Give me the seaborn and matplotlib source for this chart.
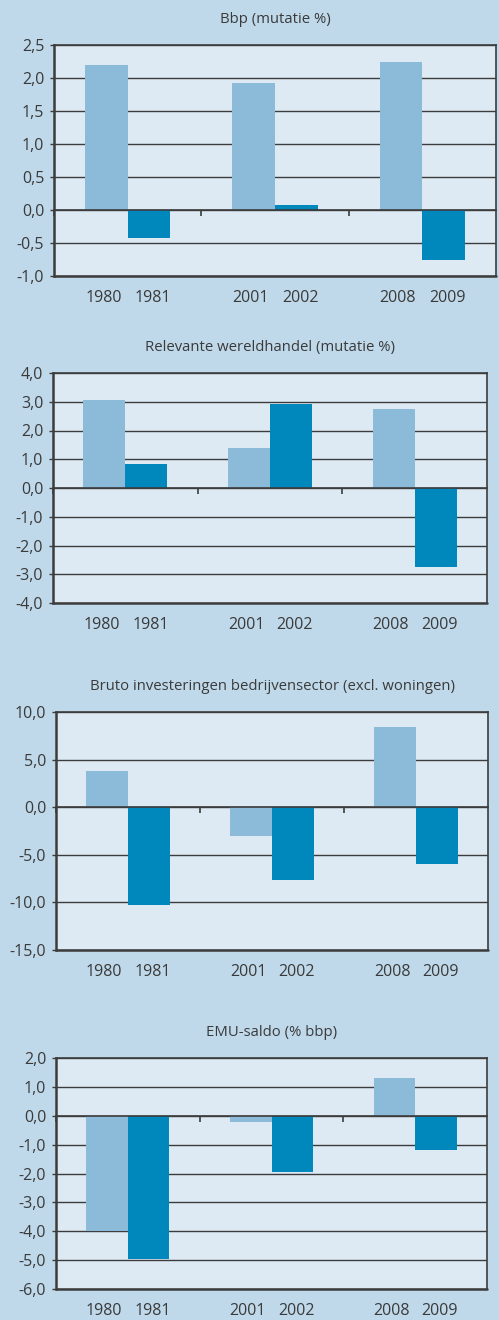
import pandas as pd
import numpy as np
import matplotlib
matplotlib.use("Agg")
import matplotlib.pyplot as plt
import seaborn as sns
from matplotlib.ticker import FuncFormatter

# --- data ---
groups = ["1980/81", "2001/02", "2008/09"]
years_first = ["1980", "2001", "2008"]
years_second = ["1981", "2002", "2009"]

titles = [
    "Bbp (mutatie %)",
    "Relevante wereldhandel (mutatie %)",
    "Bruto investeringen bedrijvensector (excl. woningen)",
    "EMU-saldo (% bbp)",
]
first_vals = [
    [2.20, 1.93, 2.25],
    [3.07, 1.40, 2.75],
    [3.8, -3.0, 8.4],
    [-4.0, -0.22, 1.3],
]
second_vals = [
    [-0.43, 0.07, -0.75],
    [0.85, 2.93, -2.75],
    [-10.3, -7.6, -6.0],
    [-4.95, -1.95, -1.2],
]
y_limits = [(-1.0, 2.5), (-4.0, 4.0), (-15.0, 10.0), (-6.0, 2.0)]
y_steps = [0.5, 1.0, 5.0, 1.0]

# --- styling ---
outer_bg = "#bfd9ea"
inner_bg = "#ddeaf3"
light_bar = "#8cbbda"
dark_bar = "#0088bc"
text_col = "#3a3a3a"
line_col = "#3c3c3c"

sns.set_style("white")
plt.rcParams["font.family"] = ["Open Sans", "DejaVu Sans"]
plt.rcParams["text.color"] = text_col

W, H = 499, 1320
fig = plt.figure(figsize=(W / 100, H / 100), dpi=100, facecolor=outer_bg)

# axes boxes in pixels: left, right, top, bottom
boxes = [
    (54, 496, 45, 276),
    (53, 487, 373, 603),
    (56, 488, 712, 950),
    (56, 487, 1058, 1289),
]

comma = FuncFormatter(lambda v, pos: f"{v:.1f}".replace(".", ","))

for i in range(4):
    l, r, t, b = boxes[i]
    ax = fig.add_axes([l / W, 1 - b / H, (r - l) / W, (b - t) / H])
    ax.set_facecolor(inner_bg)

    df = pd.DataFrame({
        "groep": groups * 2,
        "positie": ["eerste"] * 3 + ["tweede"] * 3,
        "waarde": first_vals[i] + second_vals[i],
    })
    sns.barplot(data=df, x="groep", y="waarde", hue="positie",
                palette=[light_bar, dark_bar], width=0.58,
                saturation=1, legend=False, ax=ax, zorder=3)
    for p in ax.patches:
        p.set_edgecolor("none")

    lo, hi = y_limits[i]
    ax.set_ylim(lo, hi)
    ax.set_xlim(-0.5, 2.5)
    ax.set_yticks(np.arange(lo, hi + y_steps[i] / 2, y_steps[i]))
    ax.yaxis.set_major_formatter(comma)
    ax.grid(axis="y", color=line_col, linewidth=1.0, zorder=1)
    ax.set_axisbelow(True)

    # x ticks at the category borders on the zero line
    ax.set_xticks([-0.5, 0.5, 1.5])
    ax.set_xticklabels([])
    ax.set_xlabel("")
    ax.set_ylabel("")
    ax.spines["bottom"].set_position(("data", 0))
    ax.axhline(lo, color=line_col, linewidth=1.8, clip_on=False, zorder=4)

    for side in ["left", "top", "right", "bottom"]:
        ax.spines[side].set_visible(True)
        ax.spines[side].set_color(line_col)
        ax.spines[side].set_zorder(4)
    ax.spines["left"].set_linewidth(1.8)
    ax.spines["top"].set_linewidth(1.2)
    ax.spines["right"].set_linewidth(1.2)
    ax.spines["bottom"].set_linewidth(1.2)

    ax.tick_params(axis="y", direction="out", length=3, width=1,
                   color=line_col, pad=4, labelsize=11.5, labelcolor=text_col,
                   left=True)
    ax.tick_params(axis="x", direction="out", length=4, width=1.2,
                   color=line_col, bottom=True)

    # year labels under each bar, pushed slightly apart as in the original
    for cont, labels, dx in zip(ax.containers, [years_first, years_second], [-3, 4]):
        for bar, lab in zip(cont, labels):
            xc = bar.get_x() + bar.get_width() / 2
            ax.annotate(lab, xy=(xc, 0), xycoords=("data", "axes fraction"),
                        xytext=(dx, -22), textcoords="offset pixels",
                        ha="center", va="center", fontsize=11.5, color=text_col)

    ax.annotate(titles[i], xy=(0.5, 1), xycoords="axes fraction",
                xytext=(0, 25.5), textcoords="offset pixels",
                ha="center", va="center", fontsize=10.7, color=text_col)

fig.savefig("out.png", dpi=100, facecolor=outer_bg)
